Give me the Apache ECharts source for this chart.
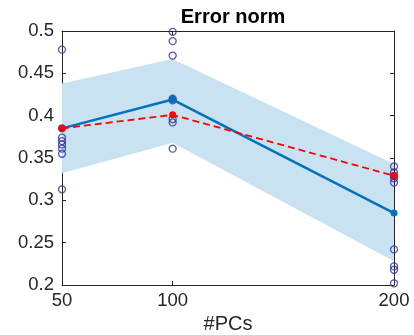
<!DOCTYPE html>
<html>
<head>
<meta charset="utf-8">
<script src="https://cdn.jsdelivr.net/npm/echarts@6/dist/echarts.min.js"></script>
<style>
  html, body { margin: 0; padding: 0; background: #fff; }
  #chart { width: 414px; height: 335px; }
</style>
</head>
<body>
<div id="chart"></div>
<script>
// x positions (#PCs)
const pcs = [50, 100, 200];
// mean error norm (blue solid line)
const meanVals = [0.385, 0.419, 0.285];
// red dashed line
const redVals = [0.385, 0.401, 0.329];
// band around the mean
const bandLow = [0.332, 0.368, 0.228];
const bandHigh = [0.438, 0.467, 0.343];
// single runs (open circles)
const runs50 = [0.478, 0.385, 0.374, 0.370, 0.366, 0.361, 0.355, 0.313];
const runs100 = [0.499, 0.488, 0.471, 0.420, 0.418, 0.396, 0.392, 0.361];
const runs200 = [0.340, 0.333, 0.329, 0.326, 0.321, 0.242, 0.222, 0.218, 0.202];

const runPoints = [];
runs50.forEach(v => runPoints.push([50, v]));
runs100.forEach(v => runPoints.push([100, v]));
runs200.forEach(v => runPoints.push([200, v]));

const bandData = pcs.map((x, i) => [x, bandLow[i], bandHigh[i]]);

const chart = echarts.init(document.getElementById('chart'));
const txt = '#262626';
const fontFam = 'Liberation Sans, Arial, sans-serif';

const option = {
  animation: false,
  title: {
    text: 'Error norm',
    left: 228, top: 2, textAlign: 'center',
    textStyle: { fontFamily: fontFam, fontSize: 20, fontWeight: 'bold', color: '#000' }
  },
  grid: { left: 62, right: 20, top: 31, bottom: 50, outerBoundsMode: 'none' },
  xAxis: [{
    type: 'value', min: 50, max: 200,
    axisTick: { inside: true, length: 4, lineStyle: { color: txt }, customValues: pcs },
    axisLabel: { customValues: pcs, color: txt, fontFamily: fontFam, fontSize: 18.5, margin: 6 },
    axisLine: { onZero: false, lineStyle: { color: txt, width: 1 } },
    splitLine: { show: false },
    name: '#PCs', nameLocation: 'middle', nameGap: 27,
    nameTextStyle: { color: txt, fontFamily: fontFam, fontSize: 20 }
  }, {
    type: 'value', min: 50, max: 200, position: 'top',
    axisTick: { inside: true, length: 4, lineStyle: { color: txt }, customValues: pcs },
    axisLabel: { show: false },
    axisLine: { onZero: false, show: true, lineStyle: { color: txt, width: 1 } },
    splitLine: { show: false }
  }],
  yAxis: [{
    type: 'value', min: 0.2, max: 0.5, interval: 0.05,
    axisTick: { show: true, inside: true, length: 4, lineStyle: { color: txt } },
    axisLabel: {
      color: txt, fontFamily: fontFam, fontSize: 18.5, margin: 8,
      formatter: v => String(+v.toFixed(2))
    },
    axisLine: { show: true, onZero: false, lineStyle: { color: txt, width: 1 } },
    splitLine: { show: false }
  }, {
    type: 'value', min: 0.2, max: 0.5, interval: 0.05, position: 'right',
    axisTick: { show: true, inside: true, length: 4, lineStyle: { color: txt } },
    axisLabel: { show: false },
    axisLine: { show: true, onZero: false, lineStyle: { color: txt, width: 1 } },
    splitLine: { show: false }
  }],
  series: [
    {
      type: 'custom', silent: true, z: 1,
      data: [0],
      renderItem: (params, api) => {
        const upper = bandData.map(d => api.coord([d[0], d[2]]));
        const lower = bandData.map(d => api.coord([d[0], d[1]])).reverse();
        return {
          type: 'polygon',
          shape: { points: upper.concat(lower) },
          style: { fill: '#c8e2f2' }
        };
      }
    },
    {
      type: 'scatter', symbol: 'circle', symbolSize: 7,
      itemStyle: { color: 'rgba(0,0,0,0)', borderColor: '#2f2f9c', borderWidth: 1.3 },
      data: runPoints,
      z: 3
    },
    {
      type: 'line', symbol: 'circle', symbolSize: 7, showAllSymbol: true,
      lineStyle: { color: '#0072bd', width: 2.5 },
      itemStyle: { color: '#0072bd', borderWidth: 0 },
      data: pcs.map((x, i) => [x, meanVals[i]]),
      z: 4
    },
    {
      type: 'line', symbol: 'circle', symbolSize: 7, showAllSymbol: true,
      lineStyle: { color: '#ff0000', width: 1.8, type: [7, 4] },
      itemStyle: { color: '#ff0000', borderWidth: 0 },
      data: pcs.map((x, i) => [x, redVals[i]]),
      z: 5
    }
  ]
};
chart.setOption(option);
</script>
</body>
</html>
